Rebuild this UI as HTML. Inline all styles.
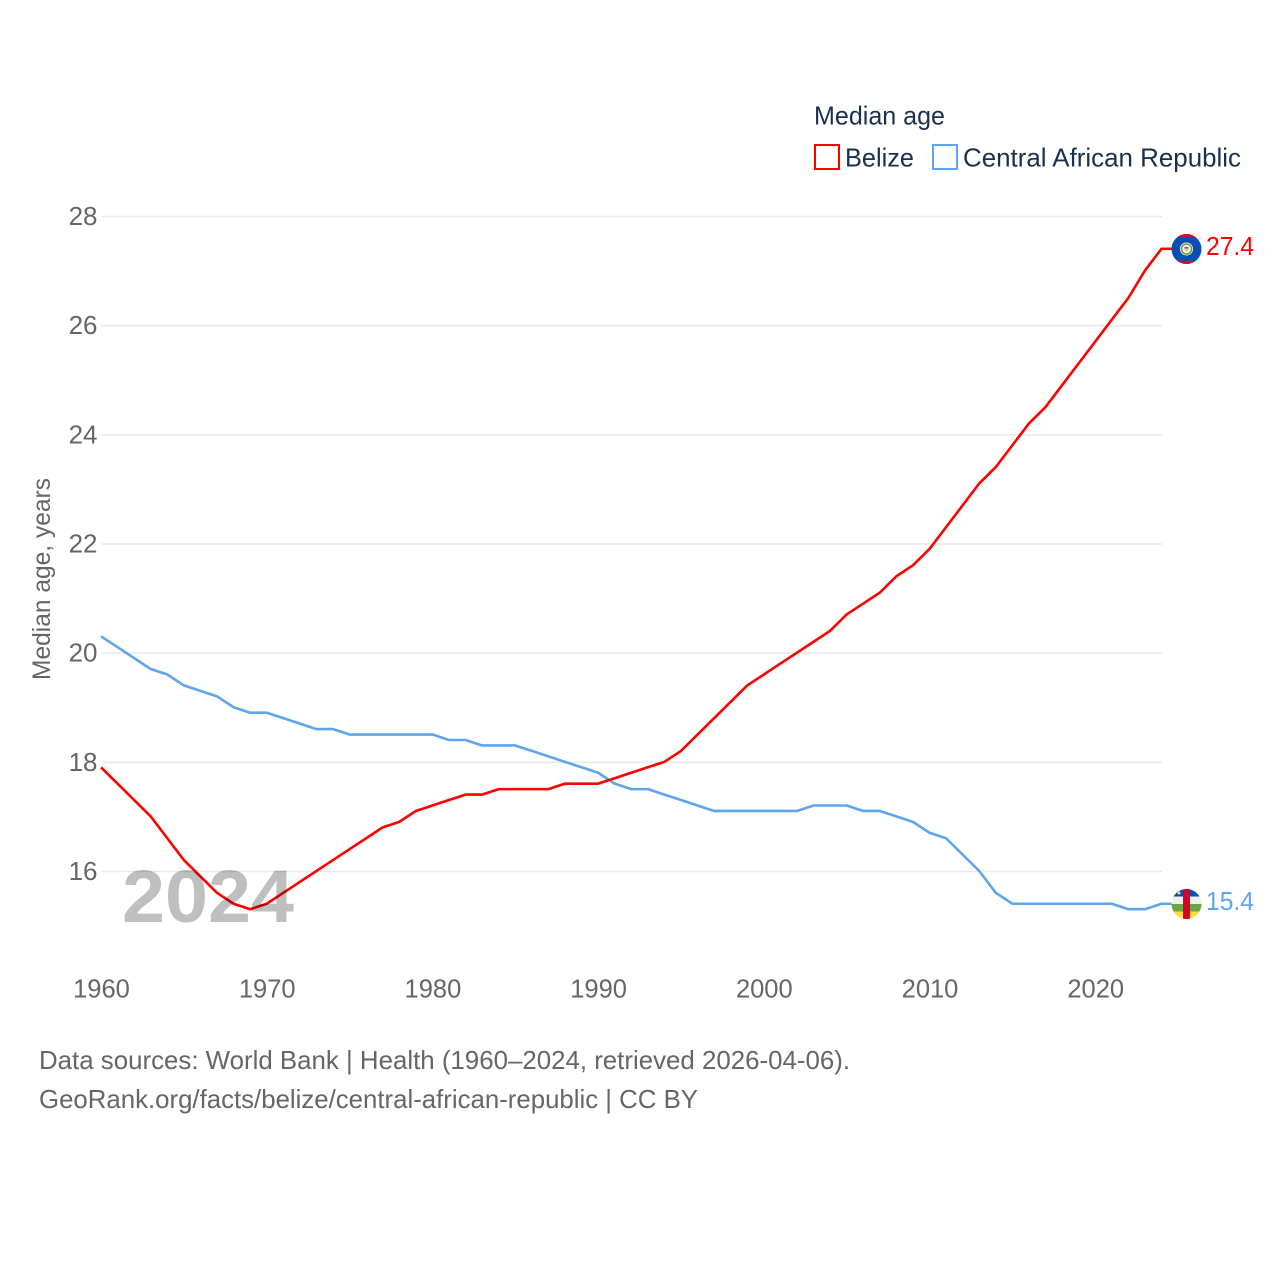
<!DOCTYPE html>
<html lang="en">
<head>
<meta charset="utf-8">
<title>Median age: Belize and Central African Republic</title>
<style>
html,body{margin:0;padding:0;background:#fff;}
svg{display:block;font-family:"Liberation Sans",sans-serif;}
</style>
</head>
<body>
<svg id="chart" xmlns="http://www.w3.org/2000/svg" width="1280" height="1280" viewBox="0 0 1280 1280">
  <rect width="1280" height="1280" fill="#fff"/>

  <g id="legend">
    <text x="814" y="124.5" font-size="26" fill="#1a3050" textLength="131" lengthAdjust="spacingAndGlyphs">Median age</text>
    <g>
      <rect x="815" y="145" width="24" height="24" fill="none" stroke="#ff0000" stroke-width="2"/>
      <text x="845" y="166.5" font-size="26" fill="#1a3050" textLength="69" lengthAdjust="spacingAndGlyphs">Belize</text>
    </g>
    <g>
      <rect x="933" y="145" width="24" height="24" fill="none" stroke="#5ea5ee" stroke-width="2"/>
      <text x="963" y="166.5" font-size="26" fill="#1a3050" textLength="278" lengthAdjust="spacingAndGlyphs">Central African Republic</text>
    </g>
  </g>

  <g id="grid"></g>
  <g id="yticks"></g>
  <g id="xticks"></g>
  <text transform="translate(50,680) rotate(-90)" font-size="25" fill="#666" textLength="202" lengthAdjust="spacingAndGlyphs">Median age, years</text>

  <g id="series" transform="translate(-0.5,-0.5)"></g>

  <text x="122" y="922" font-size="74" font-weight="700" fill="#000" fill-opacity="0.25" textLength="172" lengthAdjust="spacingAndGlyphs">2024</text>

  <defs>
    <clipPath id="clip-bz"><circle cx="1186.5" cy="249" r="15"/></clipPath>
    <clipPath id="clip-cf"><circle cx="1186.5" cy="904" r="15"/></clipPath>
  </defs>

  <g clip-path="url(#clip-bz)">
    <rect x="1171" y="233" width="31" height="32" fill="#0a4eb0"/>
    <rect x="1171" y="233" width="31" height="4" fill="#ce1126"/>
    <rect x="1171" y="261" width="31" height="4" fill="#ce1126"/>
    <circle cx="1186.5" cy="249" r="6.5" fill="#fff"/>
    <circle cx="1186.5" cy="249" r="5" fill="none" stroke="#6d9b4a" stroke-width="1.6"/>
    <circle cx="1186.5" cy="249" r="2.4" fill="#e8c98a"/>
    <rect x="1184.5" y="247" width="4" height="1.5" fill="#3a6ea5"/>
  </g>

  <g clip-path="url(#clip-cf)">
    <rect x="1171" y="889" width="31" height="7.5" fill="#0a4eb0"/>
    <rect x="1171" y="896.5" width="31" height="7.5" fill="#eeeeee"/>
    <rect x="1171" y="904" width="31" height="7.5" fill="#6da544"/>
    <rect x="1171" y="911.5" width="31" height="8.5" fill="#ffda44"/>
    <rect x="1183" y="889" width="7" height="31" fill="#d80027"/>
    <circle cx="1179" cy="893" r="1.5" fill="#ffda44"/>
  </g>

  <g id="endlabels"></g>

  <g>
    <text x="39" y="1069" font-size="26" fill="#666" textLength="811" lengthAdjust="spacingAndGlyphs">Data sources: World Bank | Health (1960–2024, retrieved 2026-04-06).</text>
    <text x="39" y="1108" font-size="26" fill="#666" textLength="659" lengthAdjust="spacingAndGlyphs">GeoRank.org/facts/belize/central-african-republic | CC BY</text>
  </g>
</svg>

<script>
const years = [1960,1961,1962,1963,1964,1965,1966,1967,1968,1969,
  1970,1971,1972,1973,1974,1975,1976,1977,1978,1979,
  1980,1981,1982,1983,1984,1985,1986,1987,1988,1989,
  1990,1991,1992,1993,1994,1995,1996,1997,1998,1999,
  2000,2001,2002,2003,2004,2005,2006,2007,2008,2009,
  2010,2011,2012,2013,2014,2015,2016,2017,2018,2019,
  2020,2021,2022,2023,2024];
const belize = [17.9,17.6,17.3,17.0,16.6,16.2,15.9,15.6,15.4,15.3,
  15.4,15.6,15.8,16.0,16.2,16.4,16.6,16.8,16.9,17.1,
  17.2,17.3,17.4,17.4,17.5,17.5,17.5,17.5,17.6,17.6,
  17.6,17.7,17.8,17.9,18.0,18.2,18.5,18.8,19.1,19.4,
  19.6,19.8,20.0,20.2,20.4,20.7,20.9,21.1,21.4,21.6,
  21.9,22.3,22.7,23.1,23.4,23.8,24.2,24.5,24.9,25.3,
  25.7,26.1,26.5,27.0,27.4];
const centralAfricanRepublic = [20.3,20.1,19.9,19.7,19.6,19.4,19.3,19.2,19.0,18.9,
  18.9,18.8,18.7,18.6,18.6,18.5,18.5,18.5,18.5,18.5,
  18.5,18.4,18.4,18.3,18.3,18.3,18.2,18.1,18.0,17.9,
  17.8,17.6,17.5,17.5,17.4,17.3,17.2,17.1,17.1,17.1,
  17.1,17.1,17.1,17.2,17.2,17.2,17.1,17.1,17.0,16.9,
  16.7,16.6,16.3,16.0,15.6,15.4,15.4,15.4,15.4,15.4,
  15.4,15.4,15.3,15.3,15.4];
const yTickValues = [16,18,20,22,24,26,28];
const xTickValues = [1960,1970,1980,1990,2000,2010,2020];

const NS = 'http://www.w3.org/2000/svg';
function xScale(year){ return 101.5 + (year - 1960) * (1162 - 101.5) / 64; }
function yScale(v){ return 871.5 - (v - 16) * (871.5 - 216.5) / 12; }
function make(tag, attrs, parent, text){
  const el = document.createElementNS(NS, tag);
  for (const k in attrs) el.setAttribute(k, attrs[k]);
  if (text !== undefined) el.textContent = text;
  parent.appendChild(el);
  return el;
}

const gridG = document.getElementById('grid');
const yG = document.getElementById('yticks');
yTickValues.forEach(function(v){
  const y = yScale(v);
  const line = make('line', {x1:101.5, x2:1162, y1:y, y2:y, stroke:'#e9e9e9', 'stroke-width':1.5}, gridG);
  
  
  const label = make('text', {x:97.5, y:y + 8.5, 'text-anchor':'end', 'font-size':26, fill:'#666'}, yG, String(v));
  
  
});

const xG = document.getElementById('xticks');
xTickValues.forEach(function(v){
  const label = make('text', {x:xScale(v), y:997.5, 'text-anchor':'middle', 'font-size':25.5, fill:'#666'}, xG, String(v));
  
  
});

function linePoints(values){
  const pts = values.map(function(v, i){ return xScale(years[i]).toFixed(2) + ',' + yScale(v).toFixed(2); });
  pts.push('1172,' + yScale(values[values.length - 1]).toFixed(2));
  return pts.join(' ');
}
const seriesG = document.getElementById('series');
const endG = document.getElementById('endlabels');

const carLine = make('polyline', {points:linePoints(centralAfricanRepublic), fill:'none', stroke:'#5ea5ee', 'stroke-width':2.6, 'stroke-linejoin':'round'}, seriesG);



const bzLine = make('polyline', {points:linePoints(belize), fill:'none', stroke:'#ff0000', 'stroke-width':2.6, 'stroke-linejoin':'round'}, seriesG);



const bzEnd = belize[belize.length - 1];
const bzLabel = make('text', {x:1206, y:yScale(bzEnd) + 5.5, 'font-size':26, fill:'#ff0000', textLength:48, lengthAdjust:'spacingAndGlyphs'}, endG, bzEnd.toFixed(1));



const carEnd = centralAfricanRepublic[centralAfricanRepublic.length - 1];
const carLabel = make('text', {x:1206, y:yScale(carEnd) + 5.5, 'font-size':26, fill:'#5ea5ee', textLength:48, lengthAdjust:'spacingAndGlyphs'}, endG, carEnd.toFixed(1));


</script>
</body>
</html>
